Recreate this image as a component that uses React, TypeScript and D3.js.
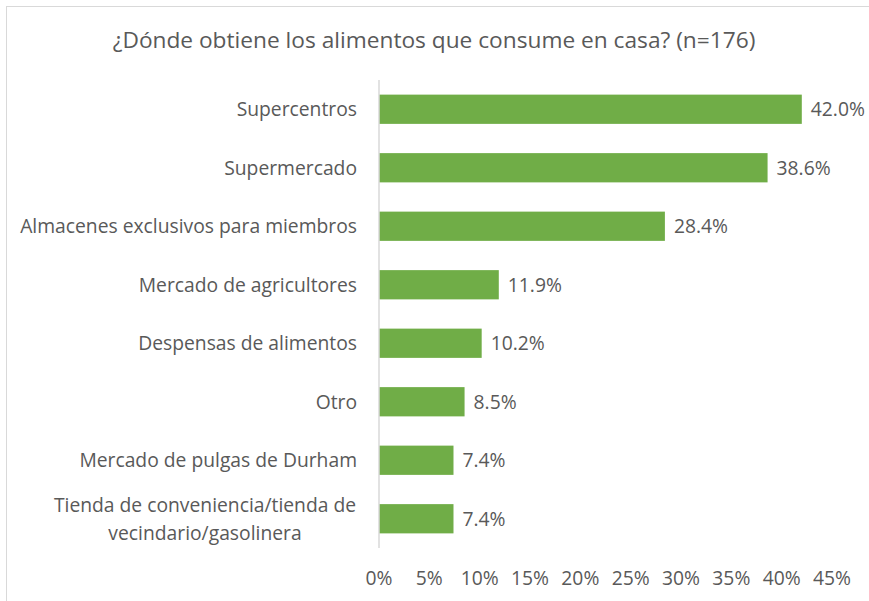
import React from "react";
import * as d3 from "d3";

const categories = [
  "Supercentros",
  "Supermercado",
  "Almacenes exclusivos para miembros",
  "Mercado de agricultores",
  "Despensas de alimentos",
  "Otro",
  "Mercado de pulgas de Durham",
  "Tienda de conveniencia/tienda de vecindario/gasolinera",
];
const values = [42.0, 38.6, 28.4, 11.9, 10.2, 8.5, 7.4, 7.4];
const ticks = [0, 5, 10, 15, 20, 25, 30, 35, 40, 45];

// long names get broken in two lines like the original
const wrapped: Record<string, string[]> = {
  "Tienda de conveniencia/tienda de vecindario/gasolinera": [
    "Tienda de conveniencia/tienda de",
    "vecindario/gasolinera",
  ],
};

const width = 869;
const height = 601;
const font = "'Open Sans', sans-serif";
const textColor = "#595959";
const fs = 19.3;

function App() {
  const x = d3.scaleLinear().domain([0, 45]).range([379, 832]);
  const y = d3.scaleBand().domain(categories).range([80, 548]).paddingInner(0.5).paddingOuter(0.25);

  return (
    <div style={{ position: "fixed", left: 0, top: 0 }}>
      <svg width={width} height={height} style={{ display: "block", background: "#fff" }}>
        <rect x={6.5} y={6.5} width={width + 10} height={height + 10} fill="#fff" stroke="#d9d9d9" />
        <text x={434} y={48} textAnchor="middle" fontFamily={font} fontSize={22.7} fill={textColor}>
          ¿Dónde obtiene los alimentos que consume en casa? (n=176)
        </text>

        {categories.map((c, i) => {
          const cy = y(c)! + y.bandwidth() / 2;
          const lines = wrapped[c];
          return (
            <g key={c}>
              <rect x={x(0)} y={y(c)} width={x(values[i]) - x(0)} height={y.bandwidth()} fill="#70ad47" />
              <text x={x(values[i]) + 9} y={cy} dy="0.35em" fontFamily={font} fontSize={fs} fill={textColor}>
                {d3.format(".1f")(values[i])}%
              </text>
              {lines ? (
                lines.map((l, j) => (
                  <text key={j} x={205} y={cy + (j - 0.5) * 28} dy="0.35em" textAnchor="middle"
                    fontFamily={font} fontSize={fs} fill={textColor}>
                    {l}
                  </text>
                ))
              ) : (
                <text x={357} y={cy} dy="0.35em" textAnchor="end" fontFamily={font} fontSize={fs} fill={textColor}>
                  {c}
                </text>
              )}
            </g>
          );
        })}

        <line x1={x(0)} x2={x(0)} y1={80} y2={548} stroke="#d9d9d9" strokeWidth={1.5} />

        {ticks.map((t) => (
          <text key={t} x={x(t)} y={578} dy="0.35em" textAnchor="middle" fontFamily={font} fontSize={fs} fill={textColor}>
            {t}%
          </text>
        ))}
      </svg>
    </div>
  );
}

export default App;
